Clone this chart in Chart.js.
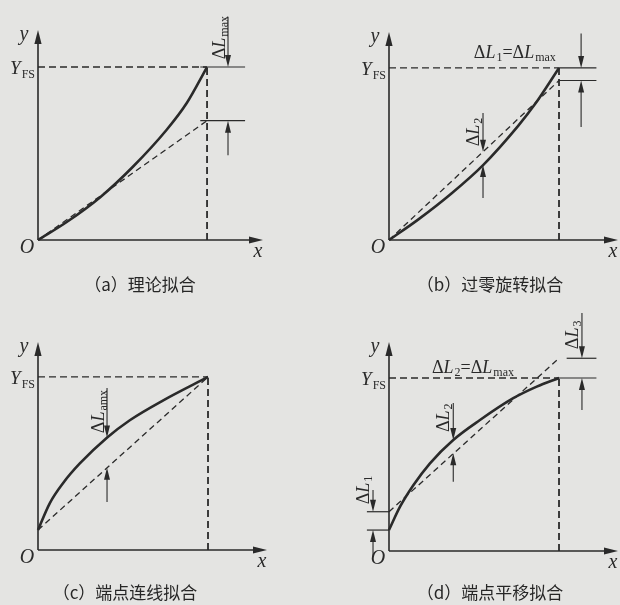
<!DOCTYPE html>
<html><head><meta charset="utf-8">
<script src="https://cdn.jsdelivr.net/npm/chart.js@4"></script>
<style>
html,body{margin:0;padding:0;background:#e4e4e2;}
#wrap{position:relative;width:620px;height:605px;overflow:hidden;background:#e4e4e2;}
canvas{position:absolute;left:0;top:0;}
</style></head><body><div id="wrap">
<canvas id="ca" width="620" height="605"></canvas>
<canvas id="cb" width="620" height="605"></canvas>
<canvas id="cc" width="620" height="605"></canvas>
<canvas id="cd" width="620" height="605"></canvas>
</div>
<script>
// ---- data (normalised: x = 1 at full-scale input, y = 1 at Y_FS) ----
const captions = ['（a）理论拟合', '（b）过零旋转拟合', '（c）端点连线拟合', '（d）端点平移拟合'];

const curveAX = [0, 0.17, 0.37, 0.56, 0.76, 0.88, 1];
const curveAY = [0, 0.104, 0.249, 0.422, 0.636, 0.792, 1];
const fitAX = [0, 1];
const fitAY = [0, 0.69];

const curveBX = [0, 0.173, 0.369, 0.555, 0.761, 0.859, 1];
const curveBY = [0, 0.12, 0.272, 0.437, 0.665, 0.79, 1];
const fitBX = [0, 1];
const fitBY = [0, 0.927];

const curveCX = [0, 0.069, 0.147, 0.246, 0.407, 0.54, 0.737, 1];
const curveCY = [0.116, 0.27, 0.386, 0.5, 0.65, 0.75, 0.865, 1];
const fitCX = [0, 1];
const fitCY = [0.116, 1];

const curveDX = [0, 0.065, 0.143, 0.241, 0.378, 0.535, 0.731, 0.869, 1];
const curveDY = [0.121, 0.256, 0.38, 0.507, 0.642, 0.757, 0.883, 0.95, 1];
const fitDX = [0, 1];
const fitDY = [0.227, 1.114];

const fullScaleX = 1;
const fullScaleY = 1;

// ---- styling ----
const INK = '#2a2a2a';
const SERIF = '"Liberation Serif", "DejaVu Serif", serif';

function pts(xs, ys) { return xs.map((x, i) => ({x: x, y: ys[i]})); }

function P(t, kind) { return {t: t, kind: kind || 'n'}; }
const dL = (sub) => [P('Δ'), P('L', 'i'), P(sub, 's')];

const panels = [
  {id: 'ca', pad: {left: 38, top: 30, right: 357, bottom: 365}, xMax: 1.331, yMax: 1.214,
   curve: [curveAX, curveAY], fit: [fitAX, fitAY],
   ticks: [[0.96, 1.225, fullScaleY], [0.96, 1.225, fitAY[1]]],
   arrows: [[1.124, 1.29, fullScaleY], [1.124, 0.49, fitAY[1]]],
   labels: [{parts: dL('max'), x: 1.068, y: 1.17, rot: true}],
   caption: {x: 140, y: 285}},
  {id: 'cb', pad: {left: 389, top: 32, right: 2, bottom: 365}, xMax: 1.347, yMax: 1.209,
   curve: [curveBX, curveBY], fit: [fitBX, fitBY],
   ticks: [[1, 1.22, fullScaleY], [1, 1.22, fitBY[1]]],
   arrows: [[1.13, 1.2, fullScaleY], [1.13, 0.657, fitBY[1]], [0.553, 0.738, 0.513], [0.553, 0.244, 0.436]],
   labels: [{parts: dL('1').concat([P('=')], dL('max')), x: 0.74, y: 1.093, rot: false},
            {parts: dL('2'), x: 0.494, y: 0.628, rot: true}],
   caption: {x: 490, y: 285}},
  {id: 'cc', pad: {left: 38, top: 342, right: 353, bottom: 55}, xMax: 1.347, yMax: 1.202,
   curve: [curveCX, curveCY], fit: [fitCX, fitCY],
   ticks: [],
   arrows: [[0.406, 0.936, 0.65], [0.406, 0.277, 0.475]],
   labels: [{parts: dL('amx'), x: 0.353, y: 0.80, rot: true}],
   caption: {x: 125, y: 593}},
  {id: 'cd', pad: {left: 389, top: 342, right: 2, bottom: 54}, xMax: 1.347, yMax: 1.208,
   curve: [curveDX, curveDY], fit: [fitDX, fitDY],
   ticks: [[-0.13, 0, fitDY[0]], [-0.13, 0, curveDY[0]], [1, 1.22, fullScaleY], [1.045, 1.22, fitDY[1]]],
   arrows: [[-0.094, 0.353, fitDY[0]], [-0.094, -0.035, curveDY[0]], [0.378, 0.855, 0.642], [0.378, 0.4, 0.565],
            [1.135, 1.376, fitDY[1]], [1.135, 0.815, fullScaleY]],
   labels: [{parts: dL('1'), x: -0.153, y: 0.353, rot: true},
            {parts: dL('2'), x: 0.318, y: 0.77, rot: true},
            {parts: dL('3'), x: 1.076, y: 1.249, rot: true},
            {parts: dL('2').concat([P('=')], dL('max')), x: 0.494, y: 1.064, rot: false}],
   caption: {x: 490, y: 593}}
];

function fontFor(kind) {
  if (kind === 'i') return 'italic 18px ' + SERIF;
  if (kind === 's') return '12px ' + SERIF;
  return '18px ' + SERIF;
}
function drawRich(ctx, parts, x, y, rot) {
  ctx.save();
  ctx.translate(x, y);
  if (rot) ctx.rotate(-Math.PI / 2);
  let w = 0;
  const widths = parts.map(p => { ctx.font = fontFor(p.kind); const m = ctx.measureText(p.t).width + (p.kind === 'i' ? 1 : 0); w += m; return m; });
  let cx = -w / 2;
  ctx.fillStyle = INK;
  ctx.textBaseline = 'alphabetic';
  ctx.textAlign = 'left';
  parts.forEach((p, i) => {
    ctx.font = fontFor(p.kind);
    ctx.fillText(p.t, cx, p.kind === 's' ? 9 : 6);
    cx += widths[i];
  });
  ctx.restore();
}
function arrowHead(ctx, x, y, dir, len, hw) {
  ctx.beginPath();
  ctx.moveTo(x, y);
  ctx.lineTo(x - hw, y - dir * len);
  ctx.lineTo(x + hw, y - dir * len);
  ctx.closePath();
  ctx.fill();
}

const decor = {
  id: 'decor',
  afterDatasetsDraw(chart, args, opts) {
    const p = opts.panel;
    const ctx = chart.ctx;
    const xs = chart.scales.x, ys = chart.scales.y;
    const ox = xs.getPixelForValue(0), oy = ys.getPixelForValue(0);
    const ex = xs.getPixelForValue(p.xMax), ty = ys.getPixelForValue(p.yMax);
    ctx.save();
    ctx.strokeStyle = INK; ctx.fillStyle = INK;
    ctx.lineWidth = 1.6;
    ctx.beginPath();
    ctx.moveTo(ox, oy); ctx.lineTo(ox, ty + 6);
    ctx.moveTo(ox, oy); ctx.lineTo(ex - 6, oy);
    ctx.stroke();
    arrowHead(ctx, ox, ty, -1, 14, 3.6);
    ctx.save();
    ctx.translate(ex, oy); ctx.rotate(-Math.PI / 2);
    arrowHead(ctx, 0, 0, 1, 14, 3.6);
    ctx.restore();
    ctx.lineWidth = 1.1;
    p.arrows.forEach(a => {
      const x = xs.getPixelForValue(a[0]);
      const y1 = ys.getPixelForValue(a[1]);
      const y2 = ys.getPixelForValue(a[2]);
      const dir = y2 > y1 ? 1 : -1;
      ctx.beginPath(); ctx.moveTo(x, y1); ctx.lineTo(x, y2 - dir * 4); ctx.stroke();
      arrowHead(ctx, x, y2, dir, 12, 3);
    });
    ctx.textAlign = 'center'; ctx.textBaseline = 'middle';
    ctx.font = 'italic 20px ' + SERIF;
    ctx.fillText('y', ox - 14, ty + 5);
    ctx.fillText('x', ex - 5, oy + 12);
    ctx.fillText('O', ox - 11, oy + 8);
    const yfs = ys.getPixelForValue(fullScaleY);
    ctx.textAlign = 'right'; ctx.textBaseline = 'alphabetic';
    ctx.font = '12px ' + SERIF;
    const wfs = ctx.measureText('FS').width;
    ctx.fillText('FS', ox - 3, yfs + 11);
    ctx.font = 'italic 19px ' + SERIF;
    ctx.fillText('Y', ox - 4 - wfs, yfs + 7);
    p.labels.forEach(l => drawRich(ctx, l.parts, xs.getPixelForValue(l.x), ys.getPixelForValue(l.y), l.rot));
    ctx.font = '17px "Noto Sans CJK SC", sans-serif';
    ctx.textAlign = 'center'; ctx.textBaseline = 'middle';
    ctx.fillStyle = '#262626';
    ctx.fillText(p.caption.text, p.caption.x, p.caption.y);
    ctx.restore();
  }
};

panels.forEach((p, idx) => {
  p.caption.text = captions[idx];
  const datasets = [
    {data: [{x: 0, y: fullScaleY}, {x: fullScaleX, y: fullScaleY}], borderColor: INK, borderWidth: 1.3, borderDash: [7, 4]},
    {data: [{x: fullScaleX, y: 0}, {x: fullScaleX, y: fullScaleY}], borderColor: INK, borderWidth: 1.8, borderDash: [7, 4]},
    {data: pts(p.fit[0], p.fit[1]), borderColor: INK, borderWidth: 1.3, borderDash: [6, 4]},
    {data: pts(p.curve[0], p.curve[1]), borderColor: INK, borderWidth: 2.6, cubicInterpolationMode: 'monotone'}
  ];
  p.ticks.forEach(t => datasets.push({data: [{x: t[0], y: t[2]}, {x: t[1], y: t[2]}], borderColor: INK, borderWidth: 1.2}));
  datasets.forEach(d => { d.pointRadius = 0; d.fill = false; d.clip = false; });
  new Chart(document.getElementById(p.id), {
    type: 'line',
    data: {datasets: datasets},
    options: {
      responsive: false, animation: false, events: [],
      layout: {padding: p.pad},
      scales: {
        x: {type: 'linear', min: 0, max: p.xMax, display: false},
        y: {type: 'linear', min: 0, max: p.yMax, display: false}
      },
      plugins: {legend: {display: false}, tooltip: {enabled: false}, decor: {panel: p}}
    },
    plugins: [decor]
  });
});
</script></body></html>
